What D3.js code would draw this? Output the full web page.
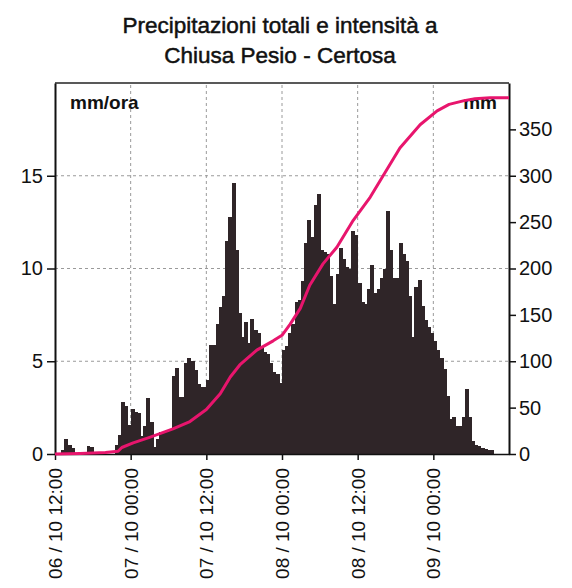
<!DOCTYPE html>
<html>
<head lang="it">
  <meta charset="utf-8">
  <title>Chiusa Pesio - Certosa</title>
  <script src="https://d3js.org/d3.v7.min.js"></script>
  <style>
    body { margin: 0; background: #fff; }
    svg text { font-family: "Liberation Sans", Arial, sans-serif; fill: #111; }
  </style>
</head>
<body>
  <script>

    // intensita semioraria (mm/ora), una barra ogni 30 minuti dal 06/10 12:00
    var intensita = [
      0, 0, 0.2, 0.8, 0.5, 0.3, 0, 0, 0, 0,
      0.45, 0.4, 0, 0, 0, 0, 0, 0, 0, 0.5,
      1.0, 2.8, 2.6, 1.55, 2.45, 2.25, 2.2, 0.95, 1.5, 3.0,
      1.7, 0.4, 0.8, 1.2, 1.2, 1.2, 1.3, 4.2, 4.65, 3.05,
      3.05, 4.9, 5.2, 5.0, 4.55, 3.75, 3.6, 3.6, 4.0, 5.9,
      5.9, 7.0, 7.9, 8.5, 11.5, 12.8, 14.6, 11.0, 7.6, 6.3,
      7.1, 6.0, 7.3, 6.7, 6.5, 5.8, 5.5, 5.4, 4.9, 4.4,
      4.3, 3.85, 5.6, 5.8, 6.5, 7.0, 8.2, 8.3, 9.3, 11.4,
      12.6, 11.7, 13.4, 14.0, 11.0, 10.9, 10.8, 9.6, 8.1, 9.7,
      11.1, 10.5, 10.1, 10.0, 12.0, 11.8, 9.2, 8.2, 8.1, 8.9,
      10.2, 8.7, 8.9, 9.5, 10.0, 13.1, 11.0, 9.5, 9.5, 11.4,
      10.8, 10.4, 8.5, 6.3, 9.0, 9.4, 8.0, 7.2, 6.85, 6.5,
      6.1, 5.6, 5.2, 4.6, 3.1, 1.9, 2.0, 1.5, 1.5, 2.0,
      3.5, 2.0, 0.7, 0.5, 0.45, 0.3, 0.25, 0.2, 0.2, 0,
      0, 0, 0, 0
    ];

    // precipitazione cumulata (mm): ore dall'inizio e valore
    var oreCumulata = [0, 4, 8, 10, 10.6, 12.4, 15, 18.7, 21.4, 24, 26.2, 27.8, 29.3, 32,
      34.6, 36, 37.3, 38.9, 40.4, 42.5, 44.7, 47.3, 50, 52.3, 54.7, 57.9, 60.6, 62.5,
      64.9, 66.6, 69, 72];
    var cumulata = [0, 0.5, 1.5, 3, 7, 12, 18, 27, 35, 48, 65, 83, 96, 112,
      122, 128, 140, 157, 182, 205, 223, 252, 277, 303, 330, 355, 370, 377,
      381, 383, 384, 384];

    var tickSinistra = [0, 5, 10, 15];
    var tickDestra = [0, 50, 100, 150, 200, 250, 300, 350];
    var tickDate = ["06/10/2010 12:00", "07/10/2010 00:00", "07/10/2010 12:00",
      "08/10/2010 00:00", "08/10/2010 12:00", "09/10/2010 00:00"];
    var titolo = ["Precipitazioni totali e intensità a", "Chiusa Pesio - Certosa"];

    var width = 572;
    var height = 588;
    var margin = {top: 83, right: 63, bottom: 134, left: 55};

    var parse = d3.timeParse("%d/%m/%Y %H:%M");
    var inizio = parse(tickDate[0]);
    var fine = d3.timeHour.offset(inizio, 72);
    var ticks = tickDate.map(parse);

    var x = d3.scaleTime()
      .domain([inizio, fine])
      .range([margin.left, width - margin.right]);

    var yL = d3.scaleLinear()
      .domain([0, 20])
      .range([height - margin.bottom, margin.top]);

    var yR = d3.scaleLinear()
      .domain([0, 400])
      .range([height - margin.bottom, margin.top]);

    var svg = d3.select("body")
      .append("svg")
      .attr("width", width)
      .attr("height", height);

    // titolo
    svg.selectAll("text.titolo")
      .data(titolo)
      .enter().append("text")
        .attr("class", "titolo")
        .attr("x", 280)
        .attr("y", function(d, i) { return 33 + i * 30; })
        .attr("text-anchor", "middle")
        .attr("font-size", "22.5px")
        .attr("stroke", "#111")
        .attr("stroke-width", 0.5)
        .text(function(d) { return d; });

    // griglia
    svg.append("g")
      .selectAll("line")
      .data(ticks.slice(1))
      .enter().append("line")
        .attr("x1", function(d) { return x(d); })
        .attr("x2", function(d) { return x(d); })
        .attr("y1", yL(0))
        .attr("y2", yL(20))
        .attr("stroke", "#9a9a9a")
        .attr("stroke-dasharray", "3,3");

    svg.append("g")
      .selectAll("line")
      .data(tickSinistra.slice(1))
      .enter().append("line")
        .attr("x1", x(inizio))
        .attr("x2", x(fine))
        .attr("y1", function(d) { return yL(d); })
        .attr("y2", function(d) { return yL(d); })
        .attr("stroke", "#9a9a9a")
        .attr("stroke-dasharray", "3,3");

    // barre intensita
    svg.append("g")
      .attr("shape-rendering", "crispEdges")
      .selectAll("rect")
      .data(intensita)
      .enter().append("rect")
        .attr("x", function(d, i) { return x(d3.timeMinute.offset(inizio, i * 30)); })
        .attr("width", function(d, i) {
          return x(d3.timeMinute.offset(inizio, (i + 1) * 30)) - x(d3.timeMinute.offset(inizio, i * 30)) + 0.8;
        })
        .attr("y", function(d) { return yL(d); })
        .attr("height", function(d) { return yL(0) - yL(d); })
        .attr("fill", "#2f2528");

    // etichette unita
    svg.append("text")
      .attr("x", 70)
      .attr("y", 109)
      .attr("font-size", "19px")
      .attr("font-weight", "bold")
      .text("mm/ora");

    svg.append("text")
      .attr("x", 497)
      .attr("y", 109)
      .attr("text-anchor", "end")
      .attr("font-size", "19px")
      .attr("font-weight", "bold")
      .text("mm");

    // cornice superiore
    svg.append("line")
      .attr("x1", x(inizio))
      .attr("x2", x(fine))
      .attr("y1", yL(20))
      .attr("y2", yL(20))
      .attr("stroke", "#222")
      .attr("stroke-width", 1.5);

    // assi
    var asseSx = svg.append("g")
      .attr("transform", "translate(" + margin.left + ",0)")
      .call(d3.axisLeft(yL)
        .tickValues(tickSinistra)
        .tickSize(8)
        .tickSizeOuter(0)
        .tickPadding(4));

    var asseDx = svg.append("g")
      .attr("transform", "translate(" + (width - margin.right) + ",0)")
      .call(d3.axisRight(yR)
        .tickValues(tickDestra)
        .tickSize(7)
        .tickSizeOuter(0)
        .tickPadding(3));

    var asseX = svg.append("g")
      .attr("transform", "translate(0," + yL(0) + ")")
      .call(d3.axisBottom(x)
        .tickValues(ticks)
        .tickSize(6)
        .tickSizeOuter(0)
        .tickFormat(d3.timeFormat("%d / %m %H:%M")));

    [asseSx, asseDx].forEach(function(g) {
      g.select(".domain").attr("stroke", "#111").attr("stroke-width", 2);
      g.selectAll(".tick line").attr("stroke", "#111").attr("stroke-width", 1.5);
      g.selectAll("text").attr("font-size", "20px").attr("font-family", null);
    });

    asseX.select(".domain").attr("stroke", "#111").attr("stroke-width", 1.5);
    asseX.selectAll(".tick line").attr("stroke", "#111").attr("stroke-width", 1.5);
    asseX.selectAll("text")
      .attr("font-size", "19px")
      .attr("font-family", null)
      .attr("text-anchor", "end")
      .attr("transform", "rotate(-90)")
      .attr("x", -14)
      .attr("y", 0)
      .attr("dy", "0.35em");

    // linea cumulata
    var linea = d3.line()
      .x(function(d, i) { return x(d3.timeMinute.offset(inizio, Math.round(oreCumulata[i] * 60))); })
      .y(function(d) { return yR(d); });

    svg.append("path")
      .datum(cumulata)
      .attr("d", linea)
      .attr("fill", "none")
      .attr("stroke", "#e8156d")
      .attr("stroke-width", 3)
      .attr("stroke-linejoin", "round");

  </script>
</body>
</html>
